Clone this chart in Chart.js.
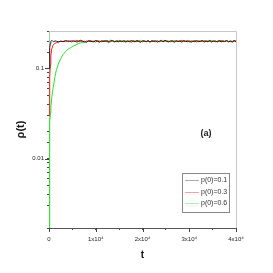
<!DOCTYPE html>
<html>
<head>
<meta charset="utf-8">
<script src="https://cdn.jsdelivr.net/npm/chart.js@4/dist/chart.umd.min.js"></script>
<style>
  html, body { margin: 0; padding: 0; background: #fff; }
  #wrap { width: 273px; height: 273px; }
</style>
</head>
<body>
<div id="wrap"><canvas id="chart" width="273" height="273"></canvas></div>
<script>
// sample times, in thousands of steps
const tThousands = [
  0, 0.1, 0.2, 0.3, 0.4, 0.6, 0.8, 1, 1.3, 1.6, 2, 2.5, 3, 3.5, 4,
  4.4, 4.8, 5.2, 5.6, 6, 6.4, 6.8, 7.2, 7.6, 8,
  8.4, 8.8, 9.2, 9.6, 10, 10.4, 10.8, 11.2, 11.6, 12,
  12.4, 12.8, 13.2, 13.6, 14, 14.4, 14.8, 15.2, 15.6, 16,
  16.4, 16.8, 17.2, 17.6, 18, 18.4, 18.8, 19.2, 19.6, 20,
  20.4, 20.8, 21.2, 21.6, 22, 22.4, 22.8, 23.2, 23.6, 24,
  24.4, 24.8, 25.2, 25.6, 26, 26.4, 26.8, 27.2, 27.6, 28,
  28.4, 28.8, 29.2, 29.6, 30, 30.4, 30.8, 31.2, 31.6, 32,
  32.4, 32.8, 33.2, 33.6, 34, 34.4, 34.8, 35.2, 35.6, 36,
  36.4, 36.8, 37.2, 37.6, 38, 38.4, 38.8, 39.2, 39.6, 40
];

const rho01 = [
  0.10, 0.14, 0.17, 0.19, 0.20, 0.205, 0.2, 0.198, 0.202, 0.2, 0.197, 0.201, 0.199, 0.203, 0.2,
  0.201, 0.197, 0.203, 0.199, 0.196, 0.202, 0.205, 0.198, 0.2, 0.194,
  0.203, 0.199, 0.201, 0.197, 0.204, 0.2, 0.196, 0.202, 0.198, 0.203,
  0.199, 0.195, 0.201, 0.204, 0.198, 0.2, 0.197, 0.203, 0.199, 0.202,
  0.196, 0.201, 0.198, 0.204, 0.2, 0.197, 0.202, 0.199, 0.195, 0.203,
  0.2, 0.198, 0.204, 0.197, 0.201, 0.199, 0.203, 0.196, 0.2, 0.202,
  0.198, 0.205, 0.199, 0.197, 0.202, 0.2, 0.196, 0.203, 0.199, 0.201,
  0.197, 0.204, 0.2, 0.198, 0.202, 0.195, 0.201, 0.199, 0.203, 0.198,
  0.2, 0.204, 0.197, 0.201, 0.199, 0.203, 0.196, 0.202, 0.198, 0.2,
  0.203, 0.197, 0.201, 0.199, 0.204, 0.198, 0.2, 0.196, 0.202, 0.199
];

const rho03 = [
  0.03, 0.05, 0.08, 0.11, 0.14, 0.165, 0.178, 0.185, 0.19, 0.193, 0.196, 0.199, 0.198, 0.2, 0.202,
  0.199, 0.204, 0.198, 0.201, 0.206, 0.197, 0.2, 0.203, 0.195, 0.202,
  0.199, 0.205, 0.198, 0.2, 0.196, 0.203, 0.201, 0.197, 0.204, 0.199,
  0.202, 0.198, 0.206, 0.2, 0.196, 0.203, 0.199, 0.201, 0.197, 0.204,
  0.2, 0.198, 0.202, 0.195, 0.203, 0.199, 0.205, 0.201, 0.197, 0.2,
  0.203, 0.198, 0.201, 0.196, 0.204, 0.2, 0.198, 0.202, 0.199, 0.206,
  0.197, 0.201, 0.203, 0.198, 0.2, 0.204, 0.196, 0.202, 0.199, 0.201,
  0.205, 0.198, 0.2, 0.203, 0.197, 0.201, 0.199, 0.204, 0.196, 0.202,
  0.2, 0.198, 0.203, 0.201, 0.197, 0.205, 0.199, 0.2, 0.202, 0.196,
  0.201, 0.204, 0.198, 0.2, 0.203, 0.197, 0.201, 0.199, 0.205, 0.2
];

const rho06 = [
  0.0015, 0.012, 0.025, 0.032, 0.037, 0.048, 0.058, 0.066, 0.082, 0.097, 0.112, 0.128, 0.142, 0.153, 0.162,
  0.167, 0.172, 0.177, 0.181, 0.186, 0.189, 0.192, 0.194, 0.196, 0.198,
  0.199, 0.202, 0.197, 0.201, 0.204, 0.199, 0.196, 0.203, 0.2, 0.198,
  0.205, 0.201, 0.197, 0.203, 0.199, 0.2, 0.206, 0.198, 0.202, 0.196,
  0.201, 0.204, 0.199, 0.197, 0.203, 0.2, 0.198, 0.202, 0.205, 0.197,
  0.201, 0.199, 0.203, 0.196, 0.2, 0.204, 0.198, 0.201, 0.197, 0.203,
  0.2, 0.206, 0.199, 0.202, 0.197, 0.201, 0.204, 0.198, 0.2, 0.203,
  0.196, 0.201, 0.199, 0.205, 0.198, 0.202, 0.2, 0.197, 0.204, 0.199,
  0.201, 0.203, 0.196, 0.2, 0.202, 0.198, 0.205, 0.199, 0.201, 0.197,
  0.203, 0.2, 0.204, 0.198, 0.201, 0.199, 0.203, 0.197, 0.202, 0.2
];

const seriesLabels = ['p(0)=0.1', 'p(0)=0.3', 'p(0)=0.6'];
const yTickLabels = [0.01, 0.1];
const xMajorTicks = [0, 10000, 20000, 30000, 40000];

const toPoints = ys => ys.map((y, i) => ({ x: tThousands[i] * 1000, y: y }));

// frame, longer major ticks, legend box and the (a) tag
const extras = {
  id: 'extras',
  afterDatasetsDraw(chart) {
    const { ctx, chartArea: a, scales } = chart;
    ctx.save();
    ctx.strokeStyle = '#c8c8c8';
    ctx.lineWidth = 1;
    ctx.beginPath();
    ctx.moveTo(a.left, a.top + 0.5);
    ctx.lineTo(a.right + 0.5, a.top + 0.5);
    ctx.lineTo(a.right + 0.5, a.bottom);
    ctx.stroke();

    ctx.strokeStyle = '#444';
    ctx.beginPath();
    yTickLabels.forEach(v => {
      const y = Math.round(scales.y.getPixelForValue(v)) + 0.5;
      ctx.moveTo(a.left - 4, y);
      ctx.lineTo(a.left, y);
    });
    xMajorTicks.forEach(v => {
      const x = Math.round(scales.x.getPixelForValue(v)) + 0.5;
      ctx.moveTo(x, a.bottom);
      ctx.lineTo(x, a.bottom + 4);
    });
    ctx.stroke();

    // legend
    ctx.fillStyle = '#fff';
    ctx.fillRect(182, 173, 47, 39);
    ctx.strokeStyle = '#888';
    ctx.strokeRect(182.5, 173.5, 47, 39);
    ctx.font = '7px "Liberation Sans", Arial, sans-serif';
    ctx.textBaseline = 'middle';
    const rows = [180, 192, 203];
    chart.data.datasets.forEach((ds, i) => {
      ctx.strokeStyle = ds.legendColor;
      ctx.beginPath();
      ctx.moveTo(185, rows[i] + 0.5);
      ctx.lineTo(199, rows[i] + 0.5);
      ctx.stroke();
      ctx.fillStyle = '#333';
      ctx.fillText(ds.label, 201, rows[i]);
    });

    ctx.font = 'bold 9px "Liberation Sans", Arial, sans-serif';
    ctx.fillStyle = '#222';
    ctx.textAlign = 'center';
    ctx.fillText('(a)', 206, 134);
    ctx.restore();
  }
};

new Chart(document.getElementById('chart'), {
  type: 'line',
  data: {
    datasets: [
      { label: seriesLabels[0], data: toPoints(rho01), borderColor: '#1e1e1e', legendColor: '#aaa', borderWidth: 1 },
      { label: seriesLabels[1], data: toPoints(rho03), borderColor: '#ff1a1a', legendColor: '#f9a0a0', borderWidth: 1 },
      { label: seriesLabels[2], data: toPoints(rho06), borderColor: '#22e822', legendColor: '#9ef29e', borderWidth: 1 }
    ]
  },
  options: {
    responsive: false,
    animation: false,
    devicePixelRatio: 1,
    layout: { padding: { left: 0, top: 31, right: 37, bottom: 0 } },
    elements: { point: { radius: 0 }, line: { tension: 0 } },
    plugins: { legend: { display: false }, tooltip: { enabled: false } },
    scales: {
      x: {
        type: 'linear',
        min: 0,
        max: 40000,
        afterFit: s => { s.height = 45; },
        border: { color: '#555' },
        grid: { drawOnChartArea: false, tickLength: 2, color: '#444' },
        ticks: {
          stepSize: 5000,
          autoSkip: false,
          maxRotation: 0,
          padding: 6,
          color: '#222',
          font: { size: 6, family: '"Liberation Sans", Arial, sans-serif' },
          callback: v => xMajorTicks.includes(v) ? (v === 0 ? '0' : (v / 10000) + 'x10\u2074') : ''
        },
        title: {
          display: true,
          text: 't',
          color: '#111',
          padding: { top: 0, bottom: 12 },
          font: { size: 10, weight: 'bold', family: '"Liberation Sans", Arial, sans-serif' }
        }
      },
      y: {
        type: 'logarithmic',
        min: 0.0017,
        max: 0.26,
        afterFit: s => { s.width = 49; },
        border: { color: '#9ccf9c' },
        grid: { drawOnChartArea: false, tickLength: 2, color: '#444' },
        ticks: {
          autoSkip: false,
          padding: 3,
          color: '#222',
          font: { size: 6, family: '"Liberation Sans", Arial, sans-serif' },
          callback: v => {
            const hit = yTickLabels.find(t => Math.abs(t - v) < t * 1e-6);
            return hit === undefined ? '' : String(hit);
          }
        },
        title: {
          display: true,
          text: '\u03c1(t)',
          color: '#111',
          padding: { top: 14, bottom: 0 },
          font: { size: 11, weight: 'bold', family: '"Liberation Sans", Arial, sans-serif' }
        }
      }
    }
  },
  plugins: [extras]
});
</script>
</body>
</html>
